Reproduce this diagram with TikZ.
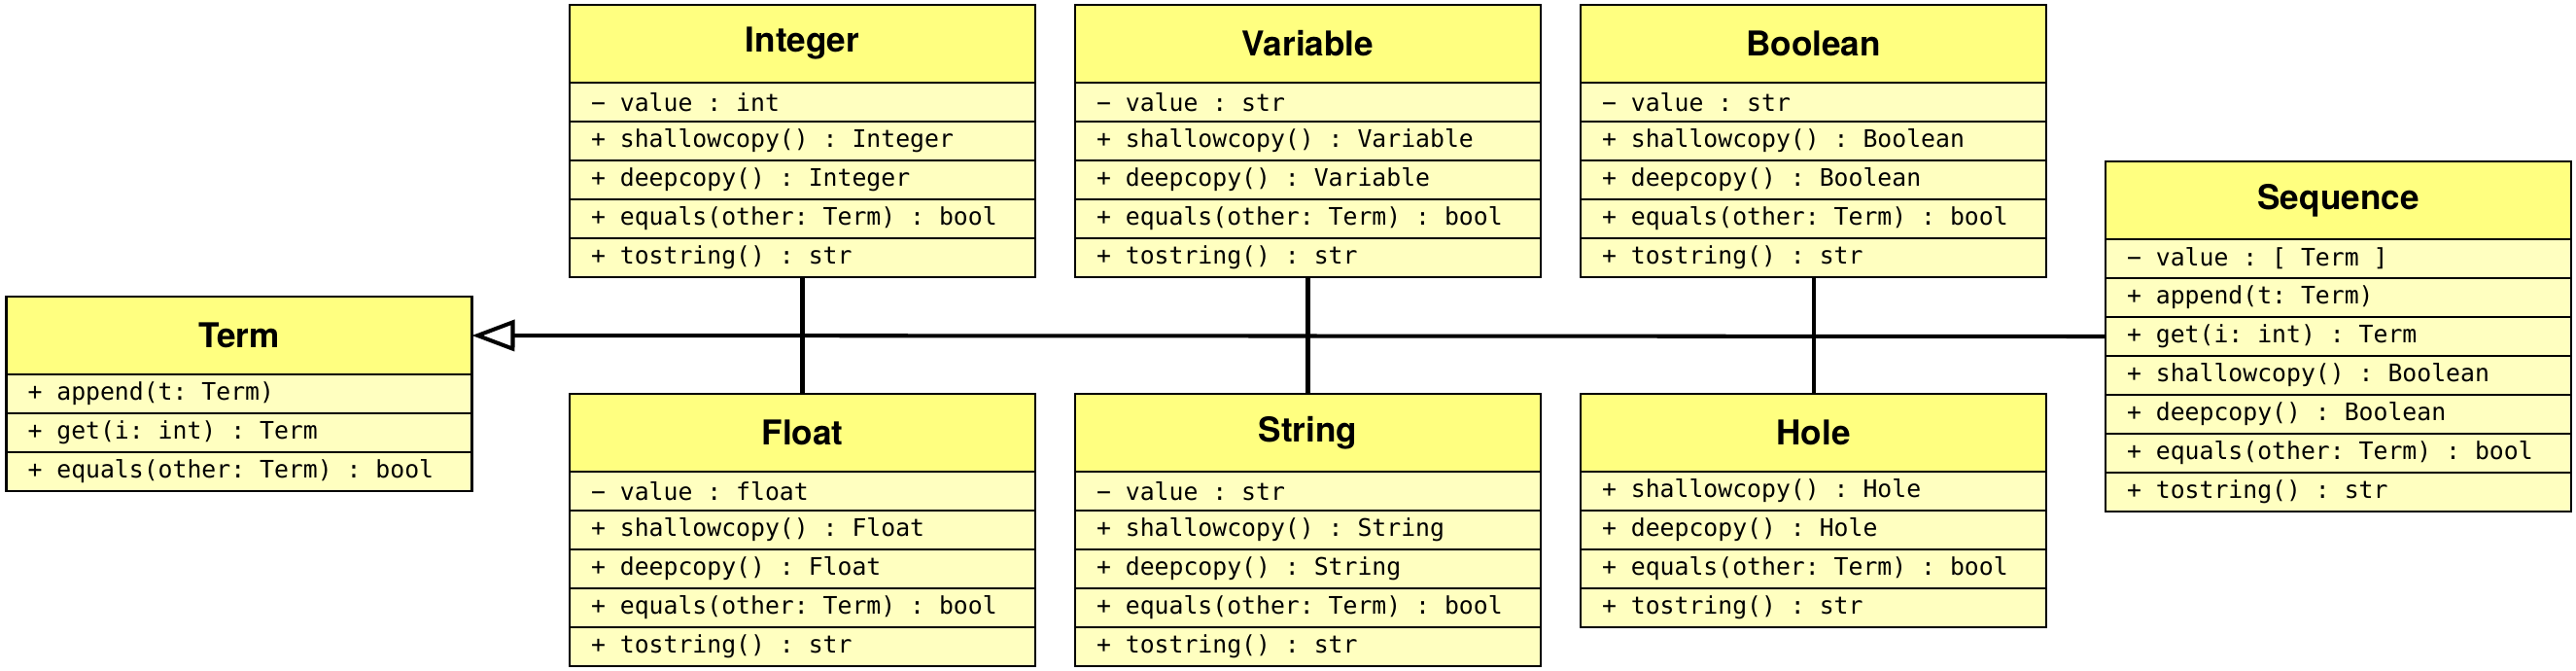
\documentclass[tikz,border=0pt]{standalone}
\usepackage{fontspec}
\setsansfont{TeX Gyre Heros}
\setmonofont{DejaVu Sans Mono}
\usetikzlibrary{positioning,arrows.meta}
\definecolor{headyellow}{RGB}{255,255,128}
\definecolor{rowyellow}{RGB}{255,255,192}

\begin{document}
\begin{tikzpicture}[
  classhead/.style={draw, line width=0.6pt, fill=headyellow, outer sep=0pt,
    minimum width=4.79cm, minimum height=0.8cm, inner sep=0pt,
    font=\sffamily\bfseries\fontsize{10}{12}\selectfont},
  attr/.style={draw, line width=0.6pt, fill=rowyellow, outer sep=0pt,
    text width=4.35cm, inner xsep=0.22cm, inner ysep=0pt, minimum height=0.4cm,
    align=flush left, below=0pt of #1, font=\ttfamily\fontsize{7.05}{9}\selectfont},
  inherit/.style={line width=1.15pt}
]
  \useasboundingbox (0,0) rectangle (26.5,-6.9);

  \node[classhead] (term) at (2.46,-3.45) {Term};
  \node[attr=term] (term1) {+ append(t: Term)};
  \node[attr=term1] (term2) {+ get(i: int) : Term};
  \node[attr=term2] (term3) {+ equals(other: Term) : bool};

  \node[classhead] (int) at (8.255,-0.45) {Integer};
  \node[attr=int] (int1) {− value : int};
  \node[attr=int1] (int2) {+ shallowcopy() : Integer};
  \node[attr=int2] (int3) {+ deepcopy() : Integer};
  \node[attr=int3] (int4) {+ equals(other: Term) : bool};
  \node[attr=int4] (int5) {+ tostring() : str};

  \node[classhead] (var) at (13.455,-0.45) {Variable};
  \node[attr=var] (var1) {− value : str};
  \node[attr=var1] (var2) {+ shallowcopy() : Variable};
  \node[attr=var2] (var3) {+ deepcopy() : Variable};
  \node[attr=var3] (var4) {+ equals(other: Term) : bool};
  \node[attr=var4] (var5) {+ tostring() : str};

  \node[classhead] (bool) at (18.655,-0.45) {Boolean};
  \node[attr=bool] (bool1) {− value : str};
  \node[attr=bool1] (bool2) {+ shallowcopy() : Boolean};
  \node[attr=bool2] (bool3) {+ deepcopy() : Boolean};
  \node[attr=bool3] (bool4) {+ equals(other: Term) : bool};
  \node[attr=bool4] (bool5) {+ tostring() : str};

  \node[classhead] (flt) at (8.255,-4.45) {Float};
  \node[attr=flt] (flt1) {− value : float};
  \node[attr=flt1] (flt2) {+ shallowcopy() : Float};
  \node[attr=flt2] (flt3) {+ deepcopy() : Float};
  \node[attr=flt3] (flt4) {+ equals(other: Term) : bool};
  \node[attr=flt4] (flt5) {+ tostring() : str};

  \node[classhead] (str) at (13.455,-4.45) {String};
  \node[attr=str] (str1) {− value : str};
  \node[attr=str1] (str2) {+ shallowcopy() : String};
  \node[attr=str2] (str3) {+ deepcopy() : String};
  \node[attr=str3] (str4) {+ equals(other: Term) : bool};
  \node[attr=str4] (str5) {+ tostring() : str};

  \node[classhead] (hole) at (18.655,-4.45) {Hole};
  \node[attr=hole] (hole1) {+ shallowcopy() : Hole};
  \node[attr=hole1] (hole2) {+ deepcopy() : Hole};
  \node[attr=hole2] (hole3) {+ equals(other: Term) : bool};
  \node[attr=hole3] (hole4) {+ tostring() : str};

  \node[classhead] (seq) at (24.055,-2.06) {Sequence};
  \node[attr=seq] (seq1) {− value : [ Term ]};
  \node[attr=seq1] (seq2) {+ append(t: Term)};
  \node[attr=seq2] (seq3) {+ get(i: int) : Term};
  \node[attr=seq3] (seq4) {+ shallowcopy() : Boolean};
  \node[attr=seq4] (seq5) {+ deepcopy() : Boolean};
  \node[attr=seq5] (seq6) {+ equals(other: Term) : bool};
  \node[attr=seq6] (seq7) {+ tostring() : str};

  \draw[inherit] (int5.south) -- (flt.north);
  \draw[inherit] (var5.south) -- (str.north);
  \draw[inherit] (bool5.south) -- (hole.north);
  \draw[inherit, -{Triangle[open, length=0.44cm, width=0.32cm]}] (seq3.west) -- (term.east);
\end{tikzpicture}
\end{document}
